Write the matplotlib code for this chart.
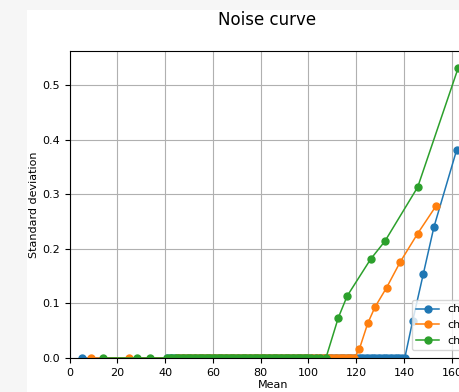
import matplotlib
matplotlib.use("Agg")
import matplotlib.pyplot as plt
from matplotlib.patches import Rectangle

# ---------------- data ----------------
labels = ["ch0", "ch1", "ch2"]
colors = ["#1f77b4", "#ff7f0e", "#2ca02c"]

blue_mean = [5.2,
             41, 42, 43, 44, 45, 46, 47, 48, 49, 50, 51, 52, 53, 54, 55, 56, 57, 58, 59, 60,
             61, 62, 63, 64, 65, 66, 67, 68, 69, 70, 71, 72, 73, 74, 75, 76, 77, 78, 79, 80,
             81, 82, 83, 84, 85, 86, 87, 88, 89, 90, 91, 92, 93, 94, 95, 96, 97, 98, 99, 100,
             101, 102, 103, 104, 105, 106, 107, 108, 109, 110, 111, 112, 113, 114, 115, 116,
             117, 118, 119, 120, 121, 122, 123, 124, 125, 126, 127, 128, 129, 130, 131, 132,
             133, 134, 135, 136, 137, 138, 139, 140.3,
             143.6, 148.0, 152.5, 162.0]
blue_std = [0.0,
            0, 0, 0, 0, 0, 0, 0, 0, 0, 0, 0, 0, 0, 0, 0, 0, 0, 0, 0, 0,
            0, 0, 0, 0, 0, 0, 0, 0, 0, 0, 0, 0, 0, 0, 0, 0, 0, 0, 0, 0,
            0, 0, 0, 0, 0, 0, 0, 0, 0, 0, 0, 0, 0, 0, 0, 0, 0, 0, 0, 0,
            0, 0, 0, 0, 0, 0, 0, 0, 0, 0, 0, 0, 0, 0, 0, 0,
            0, 0, 0, 0, 0, 0, 0, 0, 0, 0, 0, 0, 0, 0, 0, 0,
            0, 0, 0, 0, 0, 0, 0, 0,
            0.068, 0.153, 0.240, 0.381]

orange_mean = [9.2, 24.7,
               45, 46, 47, 48, 49, 50, 51, 52, 53, 54, 55, 56, 57, 58, 59, 60,
               61, 62, 63, 64, 65, 66, 67, 68, 69, 70, 71, 72, 73, 74, 75, 76, 77, 78, 79, 80,
               81, 82, 83, 84, 85, 86, 87, 88, 89, 90, 91, 92, 93, 94, 95, 96, 97, 98, 99, 100,
               101, 102, 103, 104, 105, 106, 107, 108, 109, 110, 111, 112, 113, 114, 115, 116,
               117, 118, 119.2,
               121.3, 124.8, 127.8, 132.7, 138.4, 145.7, 153.3]
orange_std = [0.0, 0.0,
              0, 0, 0, 0, 0, 0, 0, 0, 0, 0, 0, 0, 0, 0, 0, 0,
              0, 0, 0, 0, 0, 0, 0, 0, 0, 0, 0, 0, 0, 0, 0, 0, 0, 0, 0, 0,
              0, 0, 0, 0, 0, 0, 0, 0, 0, 0, 0, 0, 0, 0, 0, 0, 0, 0, 0, 0,
              0, 0, 0, 0, 0, 0, 0, 0, 0, 0, 0, 0, 0, 0, 0, 0,
              0, 0, 0,
              0.0165, 0.0635, 0.093, 0.129, 0.176, 0.228, 0.278]

green_mean = [14.0, 28.2, 33.7,
              41, 42, 43, 44, 45, 46, 47, 48, 49, 50, 51, 52, 53, 54, 55, 56, 57, 58, 59, 60,
              61, 62, 63, 64, 65, 66, 67, 68, 69, 70, 71, 72, 73, 74, 75, 76, 77, 78, 79, 80,
              81, 82, 83, 84, 85, 86, 87, 88, 89, 90, 91, 92, 93, 94, 95, 96, 97, 98, 99, 100,
              101, 103, 105, 107.3,
              112.5, 116.2, 126.0, 132.0, 145.7, 162.7]
green_std = [0.0, 0.0, 0.0,
             0, 0, 0, 0, 0, 0, 0, 0, 0, 0, 0, 0, 0, 0, 0, 0, 0, 0, 0, 0,
             0, 0, 0, 0, 0, 0, 0, 0, 0, 0, 0, 0, 0, 0, 0, 0, 0, 0, 0, 0,
             0, 0, 0, 0, 0, 0, 0, 0, 0, 0, 0, 0, 0, 0, 0, 0, 0, 0, 0, 0,
             0, 0, 0, 0,
             0.074, 0.1136, 0.181, 0.214, 0.313, 0.532]

series = [(blue_mean, blue_std), (orange_mean, orange_std), (green_mean, green_std)]

x_ticks = [0, 20, 40, 60, 80, 100, 120, 140, 160]
y_ticks = [0.0, 0.1, 0.2, 0.3, 0.4, 0.5]
title = "Noise curve"
xlabel = "Mean"
ylabel = "Standard deviation"

# ---------------- figure ----------------
W, H = 459, 392
fig = plt.figure(figsize=(W / 100, H / 100), dpi=100, facecolor="#f6f6f6")
fig.patches.append(Rectangle((27 / W, 0), (W - 27) / W, (H - 10) / H,
                             transform=fig.transFigure, facecolor="white",
                             edgecolor="none", zorder=-10))

left_px, right_px, top_px, bottom_px = 69.5, 476, 51, 358
ax = fig.add_axes([left_px / W, (H - bottom_px) / H,
                   (right_px - left_px) / W, (bottom_px - top_px) / H])

for (m, s), lab, c in zip(series, labels, colors):
    ax.plot(m, s, marker="o", markersize=5, linewidth=1.1, color=c, label=lab,
            clip_on=True)

ax.set_xlim(0, 170.1)
ax.set_ylim(0, 0.5623)
ax.set_xticks(x_ticks)
ax.set_yticks(y_ticks)
ax.tick_params(labelsize=8)
ax.grid(True, color="#b0b0b0", linewidth=0.8)
ax.set_xlabel(xlabel, fontsize=8, labelpad=2)
ax.set_ylabel(ylabel, fontsize=8, labelpad=2.5)

ax.legend(loc="lower left", bbox_to_anchor=(412 / W, (H - 350) / H),
          bbox_transform=fig.transFigure, borderaxespad=0, fontsize=8)

fig.text(267.5 / W, (H - 25) / H, title, ha="center", va="baseline", fontsize=12)

fig.savefig("out.png", dpi=100, facecolor=fig.get_facecolor())
